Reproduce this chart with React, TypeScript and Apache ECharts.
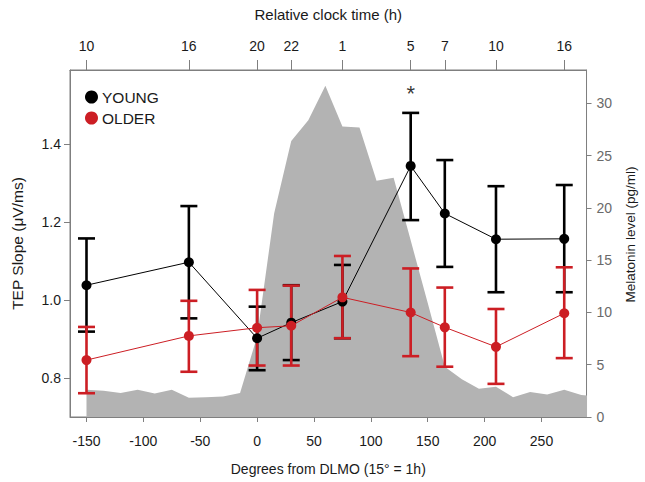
import { useEffect, useRef } from 'react';
import * as echarts from 'echarts';

// Degrees from DLMO for each session
const X_DEG = [-150, -60, 0, 30, 75, 135, 165, 210, 270];
// Relative clock time labels (top axis) at the same positions
const CLOCK_LABELS = ['10', '16', '20', '22', '1', '5', '7', '10', '16'];

const YOUNG_MEAN = [1.038, 1.097, 0.902, 0.942, 0.996, 1.344, 1.222, 1.156, 1.157];
const YOUNG_LOW = [0.919, 0.953, 0.82, 0.846, 0.902, 1.205, 1.085, 1.02, 1.02];
const YOUNG_HIGH = [1.158, 1.241, 0.983, 1.038, 1.09, 1.48, 1.359, 1.292, 1.295];

const OLDER_MEAN = [0.846, 0.908, 0.929, 0.934, 1.007, 0.968, 0.93, 0.88, 0.966];
const OLDER_LOW = [0.761, 0.816, 0.832, 0.832, 0.902, 0.856, 0.829, 0.785, 0.851];
const OLDER_HIGH = [0.931, 0.998, 1.026, 1.037, 1.113, 1.081, 1.032, 0.977, 1.084];

// Melatonin profile (pg/ml), hourly = every 15 degrees
const MEL_DEG = [-150, -135, -120, -105, -90, -75, -60, -45, -30, -15, 0, 15, 30, 45, 60, 75, 90, 105, 120, 135, 150, 165, 180, 195, 210, 225, 240, 255, 270, 285, 300];
const MEL_VAL = [2.6, 2.5, 2.3, 2.6, 2.25, 2.6, 1.85, 1.9, 1.95, 2.3, 7.7, 19.5, 26.4, 28.4, 31.7, 27.8, 27.7, 22.6, 22.9, 16.9, 10.9, 4.8, 3.6, 2.7, 2.9, 1.9, 2.4, 2.15, 2.6, 2.1, 2.0];

const LEFT_TICKS = [0.8, 1.0, 1.2, 1.4];
const BOTTOM_TICKS = [-150, -100, -50, 0, 50, 100, 150, 200, 250];
const RIGHT_TICKS = [0, 5, 10, 15, 20, 25, 30];

const SIG_MARK = [[135, 1.53]];

const FONT = '"Liberation Sans", Arial, Helvetica, sans-serif';
const BLACK = '#000000';
const RED = '#cc1e24';
const GRAY_AXIS = '#7f7f7f';
const TEXT = '#1a1a1a';

const errorBar = (color: string) => (_params: any, api: any) => {
  const x = api.value(0);
  const lo = api.coord([x, api.value(1)]);
  const hi = api.coord([x, api.value(2)]);
  const hw = 8.5;
  const style = { stroke: color, lineWidth: 2.6, fill: 'none' };
  return {
    type: 'group',
    children: [
      { type: 'line', shape: { x1: lo[0], y1: lo[1], x2: hi[0], y2: hi[1] }, style },
      { type: 'line', shape: { x1: hi[0] - hw, y1: hi[1], x2: hi[0] + hw, y2: hi[1] }, style },
      { type: 'line', shape: { x1: lo[0] - hw, y1: lo[1], x2: lo[0] + hw, y2: lo[1] }, style },
    ],
  };
};

export default function App() {
  const ref = useRef<HTMLDivElement>(null);
  useEffect(() => {
    const chart = echarts.init(ref.current!, null, { renderer: 'svg' });
    const option: any = {
      animation: false,
      textStyle: { fontFamily: FONT },
      grid: {
        left: 70,
        right: 53,
        top: 70,
        bottom: 65,
        show: true,
        borderColor: GRAY_AXIS,
        borderWidth: 1,
        backgroundColor: '#ffffff',
      },
      legend: {
        data: ['YOUNG', 'OLDER'],
        orient: 'vertical',
        left: 80,
        top: 84,
        icon: 'circle',
        itemWidth: 13,
        itemHeight: 13,
        itemGap: 5,
        textStyle: { fontFamily: FONT, fontSize: 15.5, color: TEXT, padding: [0, 0, 0, -1] },
      },
      xAxis: [
        {
          type: 'value',
          position: 'bottom',
          min: -164.5,
          max: 289.6,
          splitLine: { show: false },
          axisLine: { show: true, onZero: false, lineStyle: { color: GRAY_AXIS } },
          axisTick: { show: true, length: 5, lineStyle: { color: GRAY_AXIS }, customValues: BOTTOM_TICKS },
          axisLabel: { fontSize: 14, color: TEXT, margin: 17, customValues: BOTTOM_TICKS, fontFamily: FONT },
          name: 'Degrees from DLMO (15° = 1h)',
          nameLocation: 'middle',
          nameGap: 45,
          nameTextStyle: { fontSize: 14, color: TEXT, fontFamily: FONT },
        },
        {
          type: 'value',
          position: 'top',
          min: -164.5,
          max: 289.6,
          splitLine: { show: false },
          axisLine: { show: true, onZero: false, lineStyle: { color: GRAY_AXIS } },
          axisTick: { show: true, length: 10, lineStyle: { color: GRAY_AXIS }, customValues: X_DEG },
          axisLabel: {
            fontSize: 14,
            color: TEXT,
            margin: 17,
            fontFamily: FONT,
            customValues: X_DEG,
            formatter: (v: number) => {
              const i = X_DEG.indexOf(v);
              return i >= 0 ? CLOCK_LABELS[i] : '';
            },
          },
          name: 'Relative clock time (h)',
          nameLocation: 'middle',
          nameGap: 48,
          nameTextStyle: { fontSize: 15, color: TEXT, fontFamily: FONT },
        },
      ],
      yAxis: [
        {
          type: 'value',
          position: 'left',
          min: 0.7,
          max: 1.59,
          splitLine: { show: false },
          axisLine: { show: true, onZero: false, lineStyle: { color: GRAY_AXIS } },
          axisTick: { show: true, length: 6, lineStyle: { color: GRAY_AXIS }, customValues: LEFT_TICKS },
          axisLabel: {
            fontSize: 14,
            color: TEXT,
            margin: 9,
            fontFamily: FONT,
            customValues: LEFT_TICKS,
            formatter: (v: number) => v.toFixed(1),
          },
          name: 'TEP Slope (μV/ms)',
          nameLocation: 'middle',
          nameRotate: 90,
          nameGap: 45,
          nameTextStyle: { fontSize: 15.5, color: TEXT, fontFamily: FONT },
        },
        {
          type: 'value',
          position: 'right',
          min: 0,
          max: 33.2,
          splitLine: { show: false },
          axisLine: { show: true, onZero: false, lineStyle: { color: GRAY_AXIS } },
          axisTick: { show: true, length: 5, lineStyle: { color: GRAY_AXIS }, customValues: RIGHT_TICKS },
          axisLabel: { fontSize: 14, color: '#6a6a6a', margin: 10, fontFamily: FONT, customValues: RIGHT_TICKS },
          name: 'Melatonin level (pg/ml)',
          nameLocation: 'middle',
          nameRotate: 90,
          nameGap: 34,
          nameTextStyle: { fontSize: 13.5, color: TEXT, fontFamily: FONT, padding: [0, 0, 0, 18] },
        },
      ],
      series: [
        {
          name: 'Melatonin',
          type: 'line',
          xAxisIndex: 0,
          yAxisIndex: 1,
          data: MEL_DEG.map((d, i) => [d, MEL_VAL[i]]),
          showSymbol: false,
          symbol: 'none',
          lineStyle: { width: 0, color: '#b3b3b3' },
          areaStyle: { color: '#b3b3b3', opacity: 1 },
          itemStyle: { color: '#b3b3b3' },
          clip: true,
          z: 1,
        },
        {
          name: 'YOUNG_err',
          type: 'custom',
          xAxisIndex: 0,
          yAxisIndex: 0,
          renderItem: errorBar(BLACK),
          data: X_DEG.map((d, i) => [d, YOUNG_LOW[i], YOUNG_HIGH[i]]),
          encode: { x: 0, y: [1, 2] },
          z: 2,
        },
        {
          name: 'OLDER_err',
          type: 'custom',
          xAxisIndex: 0,
          yAxisIndex: 0,
          renderItem: errorBar(RED),
          data: X_DEG.map((d, i) => [d, OLDER_LOW[i], OLDER_HIGH[i]]),
          encode: { x: 0, y: [1, 2] },
          z: 3,
        },
        {
          name: 'YOUNG',
          type: 'line',
          xAxisIndex: 0,
          yAxisIndex: 0,
          data: X_DEG.map((d, i) => [d, YOUNG_MEAN[i]]),
          symbol: 'circle',
          symbolSize: 10,
          showSymbol: true,
          color: BLACK,
          itemStyle: { color: BLACK },
          lineStyle: { color: BLACK, width: 1 },
          z: 4,
        },
        {
          name: 'OLDER',
          type: 'line',
          xAxisIndex: 0,
          yAxisIndex: 0,
          data: X_DEG.map((d, i) => [d, OLDER_MEAN[i]]),
          symbol: 'circle',
          symbolSize: 10,
          showSymbol: true,
          color: RED,
          itemStyle: { color: RED },
          lineStyle: { color: RED, width: 1 },
          z: 5,
        },
        {
          name: 'sig',
          type: 'scatter',
          xAxisIndex: 0,
          yAxisIndex: 0,
          data: SIG_MARK,
          symbolSize: 1,
          itemStyle: { color: 'rgba(0,0,0,0)' },
          label: {
            show: true,
            position: 'inside',
            formatter: '*',
            fontSize: 22,
            color: BLACK,
            fontFamily: FONT,
          },
          z: 6,
        },
      ],
    };
    chart.setOption(option);
    return () => chart.dispose();
  }, []);
  return (
    <div
      ref={ref}
      style={{ position: 'absolute', left: 0, top: 0, width: 645, height: 482 }}
    />
  );
}
